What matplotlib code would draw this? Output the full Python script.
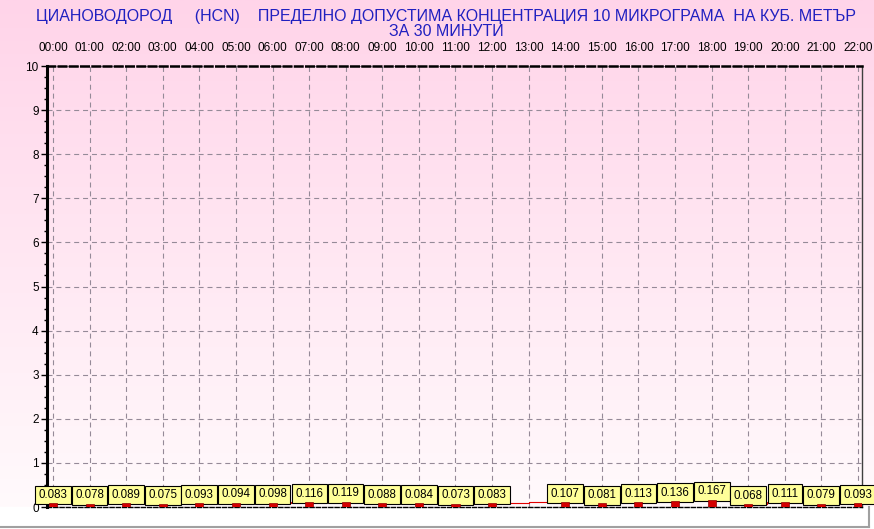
import numpy as np
import matplotlib.pyplot as plt
from matplotlib.colors import LinearSegmentedColormap
from matplotlib.patches import Rectangle

plt.rcParams['font.family'] = ['Liberation Sans', 'DejaVu Sans']

hours = ["00:00", "01:00", "02:00", "03:00", "04:00", "05:00", "06:00", "07:00",
         "08:00", "09:00", "10:00", "11:00", "12:00", "13:00", "14:00", "15:00",
         "16:00", "17:00", "18:00", "19:00", "20:00", "21:00", "22:00"]
# 13:00 has no measurement
values = [0.083, 0.078, 0.089, 0.075, 0.093, 0.094, 0.098, 0.116, 0.119, 0.088,
          0.084, 0.073, 0.083, None, 0.107, 0.081, 0.113, 0.136, 0.167, 0.068,
          0.111, 0.079, 0.093]

title1 = "ЦИАНОВОДОРОД     (HCN)    ПРЕДЕЛНО ДОПУСТИМА КОНЦЕНТРАЦИЯ 10 МИКРОГРАМА  НА КУБ. МЕТЪР"
title2 = "ЗА 30 МИНУТИ"

fig = plt.figure(figsize=(8.74, 5.29), dpi=100)

# pink -> white background gradient
bg = fig.add_axes([0, 0, 1, 1], zorder=-10)
cmap = LinearSegmentedColormap.from_list("pk", ["#ffd4e9", "#fffafc"])
grad = np.linspace(0, 1, 256).reshape(-1, 1)
bg.imshow(grad, cmap=cmap, aspect="auto", extent=[0, 1, 22 / 529, 1])
bg.add_patch(Rectangle((0, 0), 1, 22 / 529, color="white"))
bg.plot([0, 869 / 874], [2 / 529, 2 / 529], color="#a0a0a0", lw=1.5)
bg.plot([869 / 874, 869 / 874], [2 / 529, 22 / 529], color="#a0a0a0", lw=1.5)
bg.set_xlim(0, 1)
bg.set_ylim(0, 1)
bg.axis("off")

fig.text(446 / 874, 1 - 16 / 529, title1, ha="center", va="center",
         fontsize=11.5, color="#2020c0")
fig.text(446 / 874, 1 - 31 / 529, title2, ha="center", va="center",
         fontsize=11.5, color="#2020c0")

ax = fig.add_axes([47 / 874, 22 / 529, 815 / 874, 441 / 529])
ax.patch.set_alpha(0)

x = np.arange(len(hours))
xs = [i for i, v in enumerate(values) if v is not None]
vs = [v for v in values if v is not None]

ax.bar(xs, vs, width=0.22, color="#d40000", edgecolor="#900000", lw=0.5, zorder=6)
ax.plot(xs, vs, drawstyle="steps-mid", color="#e00000", lw=0.8, zorder=2)

for xi, v in zip(xs, vs):
    ax.text(xi, v + 0.19, f"{v:.3f}", ha="center", va="center", fontsize=8.3,
            zorder=5,
            bbox=dict(boxstyle="square,pad=0.3", fc="#ffff99", ec="black", lw=0.8))

ax.set_xlim(-0.164, 22.11)
ax.set_ylim(0, 10)
ax.set_xticks(x)
ax.set_xticklabels(hours, fontsize=8.5)
ax.xaxis.tick_top()
ax.tick_params(axis="x", length=0, pad=9)
ax.set_yticks(range(11))
ax.set_yticks(np.arange(0, 10.01, 0.25), minor=True)
ax.tick_params(axis="y", labelsize=8.5, length=4, width=1, pad=2)
ax.tick_params(axis="y", which="minor", length=2, width=1)

ax.grid(True, which="major", color="#958a98", linestyle=(0, (4.5, 3.5)), lw=0.8)
ax.set_axisbelow(True)

ax.spines["left"].set_linewidth(2.2)
ax.spines["top"].set_linestyle((0, (3, 1.5)))
ax.spines["top"].set_linewidth(1.8)
ax.spines["bottom"].set_linestyle((0, (3, 1.5)))
ax.spines["bottom"].set_linewidth(1.0)
ax.spines["right"].set_color("#404040")
ax.spines["right"].set_linewidth(1.0)

fig.savefig("out.png", dpi=100)
